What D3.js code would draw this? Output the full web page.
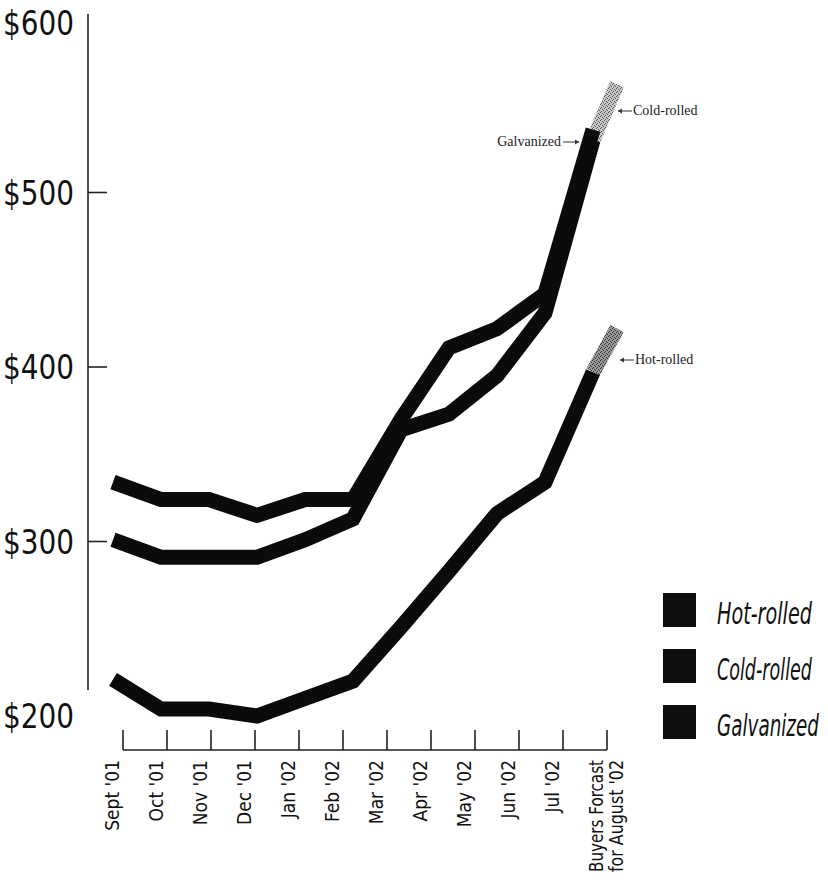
<!DOCTYPE html>
<html>
<head>
<meta charset="utf-8">
<script src="https://cdn.jsdelivr.net/npm/d3@7"></script>
<style>
  body { margin: 0; background: #fff; }
  svg { display: block; }
  .ylab { font-family: "DejaVu Sans Condensed", "DejaVu Sans", sans-serif; font-size: 33px; fill: #111; }
  .xlab { font-family: "DejaVu Sans Condensed", "DejaVu Sans", sans-serif; font-size: 19px; fill: #111; }
  .leg  { font-family: "DejaVu Sans Condensed", "DejaVu Sans", sans-serif; font-size: 30px; font-style: italic; fill: #111; }
  .note { font-family: "Liberation Serif", "DejaVu Serif", serif; font-size: 14px; fill: #222; }
</style>
</head>
<body>
<svg id="chart" width="828" height="882"></svg>
<script>
// months shown on the lines, Sept '01 .. Jul '02
var months = ["Sept '01", "Oct '01", "Nov '01", "Dec '01", "Jan '02", "Feb '02",
              "Mar '02", "Apr '02", "May '02", "Jun '02", "Jul '02"];
var axisLabels = months.concat(["Buyers Forcast|for August '02"]);

var hotRolled  = [221, 204, 204, 200, 210, 220, 251, 283, 316, 334, 397];
var coldRolled = [301, 291, 291, 291, 301, 313, 364, 373, 395, 431, 530];
var galvanized = [334, 324, 324, 315, 324, 324, 370, 411, 422, 442, 536];

// buyers forecast for August (grey tails)
var forecastNames  = ["Hot-rolled", "Cold-rolled"];
var forecastValues = [422, 562];

var seriesNames = ["Hot-rolled", "Cold-rolled", "Galvanized"];
var yTicks = [200, 300, 400, 500, 600];

var svg = d3.select('#chart');

var y = d3.scaleLinear().domain([200, 600]).range([716, 18]);
var xData = d3.scaleLinear().domain([0, 10]).range([113, 593]);
var xAxis = d3.scalePoint().domain(axisLabels).range([123, 607]);
var FORECAST_AT = 10.5;
var AXIS_X = 88, BASE_Y = 750;

var series = [hotRolled, coldRolled, galvanized].map(function(vals, i) {
    return { name: seriesNames[i], values: vals };
});

// squeeze a text horizontally to a given width (condensed look)
function squeeze(sel, width, x0) {
    sel.each(function() {
        var len = this.getComputedTextLength();
        var k = Math.min(1, width / len);
        d3.select(this).attr('transform', 'translate(' + x0 + ',0) scale(' + k + ',1)');
    });
}

// stipple patterns for the forecast tails
var defs = svg.append('defs');
function stipple(id, bg, dot) {
    var p = defs.append('pattern')
        .attr('id', id)
        .attr('patternUnits', 'userSpaceOnUse')
        .attr('width', 4).attr('height', 4);
    p.append('rect').attr('width', 4).attr('height', 4).attr('fill', bg);
    [[0, 0], [2, 1], [1, 3], [3, 2]].forEach(function(d) {
        p.append('rect').attr('x', d[0]).attr('y', d[1])
            .attr('width', 1).attr('height', 1).attr('fill', dot);
    });
}
stipple('tail-Hot-rolled', '#9a9a9a', '#333');
stipple('tail-Cold-rolled', '#c9c9c9', '#555');

// y axis
var yAxis = svg.append('g').attr('class', 'y-axis');
yAxis.append('line')
    .attr('x1', AXIS_X).attr('x2', AXIS_X)
    .attr('y1', y(600) - 4).attr('y2', 690)
    .attr('stroke', '#222').attr('stroke-width', 1.6);
yAxis.selectAll('.tick')
    .data(yTicks.filter(function(d) { return d > 200 && d < 600; }))
    .enter().append('line')
    .attr('x1', AXIS_X).attr('x2', AXIS_X + 19)
    .attr('y1', y).attr('y2', y)
    .attr('stroke', '#222').attr('stroke-width', 1.6);
yAxis.selectAll('.ylab')
    .data(yTicks)
    .enter().append('text')
    .attr('class', 'ylab')
    .attr('x', 74)
    .attr('y', function(d) { return Math.max(y(d), 23) + 12; })
    .attr('text-anchor', 'end')
    .attr('textLength', 71)
    .attr('lengthAdjust', 'spacingAndGlyphs')
    .text(function(d) { return '$' + d; });

// x axis
var xAx = svg.append('g').attr('class', 'x-axis');
xAx.append('line')
    .attr('x1', xAxis(axisLabels[0])).attr('x2', xAxis(axisLabels[axisLabels.length - 1]))
    .attr('y1', BASE_Y).attr('y2', BASE_Y)
    .attr('stroke', '#222').attr('stroke-width', 1.6);
xAx.selectAll('.tick')
    .data(axisLabels)
    .enter().append('line')
    .attr('x1', xAxis).attr('x2', xAxis)
    .attr('y1', BASE_Y - 20).attr('y2', BASE_Y)
    .attr('stroke', '#222').attr('stroke-width', 1.6);

axisLabels.forEach(function(lab) {
    var parts = lab.split('|');
    var tx = xAxis(lab);
    var offsets = parts.length > 1 ? [-4, 16] : [-4];
    parts.forEach(function(p, j) {
        var t = svg.append('text')
            .attr('class', 'xlab')
            .attr('text-anchor', 'end')
            .attr('transform', 'translate(' + (tx + offsets[j]) + ',760) rotate(-90)')
            .text(p);
        if (parts.length > 1) {
            t.attr('textLength', 112).attr('lengthAdjust', 'spacingAndGlyphs');
        }
    });
});

// forecast tails (under the black lines)
var line = d3.line()
    .x(function(d) { return xData(d[0]); })
    .y(function(d) { return y(d[1]); });

forecastNames.forEach(function(name, i) {
    var s = series.filter(function(d) { return d.name === name; })[0];
    var last = s.values.length - 1;
    svg.append('path')
        .attr('d', line([[last, s.values[last]], [FORECAST_AT, forecastValues[i]]]))
        .attr('fill', 'none')
        .attr('stroke', 'url(#tail-' + name + ')')
        .attr('stroke-width', 15);
});

// price lines
svg.selectAll('.series')
    .data(series)
    .enter().append('path')
    .attr('class', 'series')
    .attr('d', function(s) {
        return line(s.values.map(function(v, i) { return [i, v]; }));
    })
    .attr('fill', 'none')
    .attr('stroke', '#0b0b0b')
    .attr('stroke-width', 15)
    .attr('stroke-linejoin', 'miter')
    .attr('stroke-linecap', 'butt');

// callouts
function arrow(x1, x2, yy) {
    var dir = x2 > x1 ? 1 : -1;
    svg.append('line')
        .attr('x1', x1).attr('x2', x2).attr('y1', yy).attr('y2', yy)
        .attr('stroke', '#333').attr('stroke-width', 1);
    svg.append('path')
        .attr('d', 'M' + x2 + ',' + yy + 'l' + (-4 * dir) + ',-2.5l0,5z')
        .attr('fill', '#333');
}
svg.append('text').attr('class', 'note')
    .attr('x', 561).attr('y', 146).attr('text-anchor', 'end').text('Galvanized');
arrow(563, 579, 142);
svg.append('text').attr('class', 'note')
    .attr('x', 633).attr('y', 115).text('Cold-rolled');
arrow(632, 618, 111);
svg.append('text').attr('class', 'note')
    .attr('x', 635).attr('y', 364).text('Hot-rolled');
arrow(634, 620, 360);

// legend
var legend = svg.append('g').attr('class', 'legend');
var legendItems = legend.selectAll('g')
    .data(seriesNames)
    .enter().append('g')
    .attr('transform', function(d, i) { return 'translate(663,' + (593 + i * 56) + ')'; });
legendItems.append('rect')
    .attr('width', 33).attr('height', 34)
    .attr('fill', '#0e0e0e');
legendItems.append('text')
    .attr('class', 'leg')
    .attr('y', 31)
    .text(function(d) { return d; })
    .each(function(d) {
        squeeze(d3.select(this), d === 'Galvanized' ? 102 : 95, 54);
    });
</script>
</body>
</html>
